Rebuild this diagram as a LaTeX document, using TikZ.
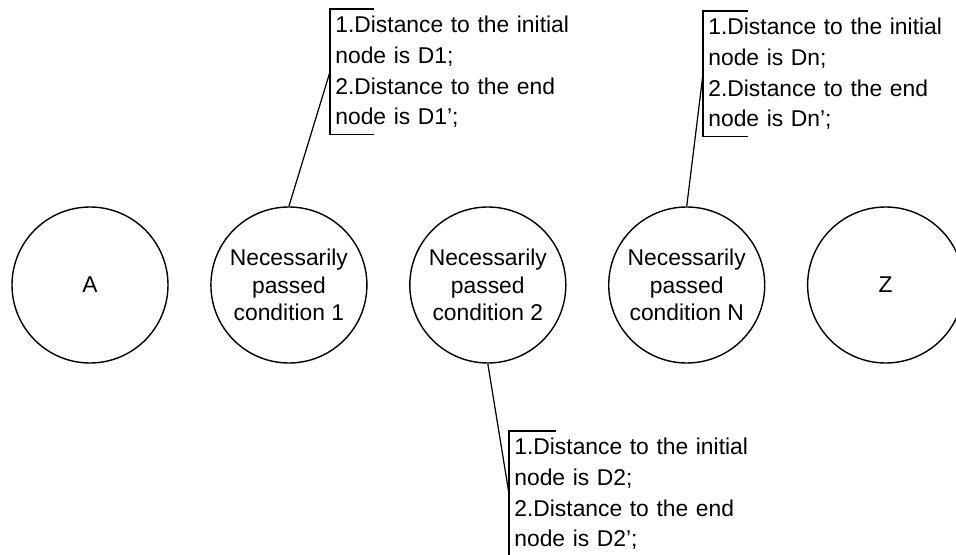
\documentclass[tikz,border=0pt]{standalone}
\usepackage{fontspec}
\setmainfont{Liberation Sans}
\usetikzlibrary{positioning}

\begin{document}
\begin{tikzpicture}[
    cond/.style={circle, draw, line width=0.8pt, minimum size=3.12cm, inner sep=0pt,
        align=center, font=\fontsize{13}{15.8}\selectfont},
    note/.style={anchor=north west, minimum height=2.5cm, text width=5.2cm,
        inner xsep=0.1cm, inner ysep=0pt, align=left, font=\fontsize{13}{17.5}\selectfont},
    lead/.style={line width=0.7pt}
]
\useasboundingbox (0,0) rectangle (19.12,11.08);

%% Row of circles
\node[cond] (A) at (1.8,5.38) {A};
\node[cond, right=0.83cm of A] (c1) {Necessarily\\passed\\condition 1};
\node[cond, right=0.83cm of c1] (c2) {Necessarily\\passed\\condition 2};
\node[cond, right=0.83cm of c2] (cN) {Necessarily\\passed\\condition N};
\node[cond, right=0.83cm of cN] (Z) {Z};

%% Note on condition 1
\node[note] (d1) at (6.6,10.9) {1.Distance to the initial\\node is D1;\\2.Distance to the end\\node is D1';};
\draw[lead] ([xshift=0.88cm]d1.north west) -- (d1.north west) -- (d1.south west) -- ++(0.88,0);
\draw[lead] (c1.north) -- (d1.west);

%% Note on condition 2
\node[note] (d2) at (10.18,2.46) {1.Distance to the initial\\node is D2;\\2.Distance to the end\\node is D2';};
\draw[lead] ([xshift=0.94cm]d2.north west) -- (d2.north west) -- (d2.south west) -- ++(0.94,0);
\draw[lead] (c2.south) -- (d2.west);

%% Note on condition N
\node[note] (dN) at (14.06,10.86) {1.Distance to the initial\\node is Dn;\\2.Distance to the end\\node is Dn';};
\draw[lead] ([xshift=0.9cm]dN.north west) -- (dN.north west) -- (dN.south west) -- ++(0.9,0);
\draw[lead] (cN.north) -- (dN.west);
\end{tikzpicture}
\end{document}
